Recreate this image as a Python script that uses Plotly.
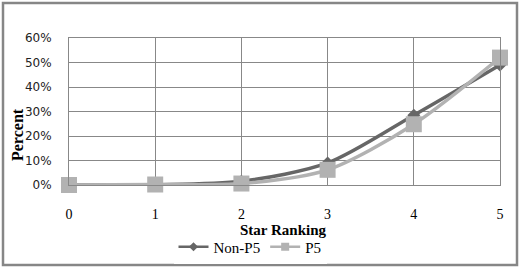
import plotly.graph_objects as go

stars = [0, 1, 2, 3, 4, 5]
non_p5 = [0.0, 0.1, 1.5, 9.0, 28.5, 49.0]
p5 = [0.0, 0.2, 0.6, 6.2, 24.8, 52.0]
y_ticks = [0, 10, 20, 30, 40, 50, 60]
y_tick_labels = ["0%", "10%", "20%", "30%", "40%", "50%", "60%"]

W, H = 521, 273
L, R, T, B = 69, 21, 38, 88
pw, ph = W - L - R, H - T - B

def px(x):
    return (x - L) / pw

def py(y):
    return (H - B - y) / ph

DARK, LIGHT = "#666666", "#b2b2b2"

fig = go.Figure()
fig.add_trace(go.Scatter(
    x=stars, y=non_p5, name="Non-P5", mode="lines+markers", cliponaxis=False, showlegend=False,
    line=dict(color=DARK, width=3.5, shape="spline", smoothing=0.8),
    marker=dict(symbol="diamond", size=10, color=DARK),
))
fig.add_trace(go.Scatter(
    x=stars, y=p5, name="P5", mode="lines+markers", cliponaxis=False, showlegend=False,
    line=dict(color=LIGHT, width=3.5, shape="spline", smoothing=0.8),
    marker=dict(symbol="square", size=16, color=LIGHT),
))
# legend-only entries with small symbols
fig.add_trace(go.Scatter(
    x=[None], y=[None], name="Non-P5", mode="lines+markers",
    line=dict(color=DARK, width=2.5), marker=dict(symbol="diamond", size=7, color=DARK),
))
fig.add_trace(go.Scatter(
    x=[None], y=[None], name="P5", mode="lines+markers",
    line=dict(color=LIGHT, width=2.5), marker=dict(symbol="square", size=8, color=LIGHT),
))

fig.update_layout(
    width=W, height=H,
    margin=dict(l=L, r=R, t=T, b=B, autoexpand=False),
    paper_bgcolor="white", plot_bgcolor="white",
    showlegend=True,
    legend=dict(orientation="h", x=px(250), y=py(247), xanchor="center", yanchor="middle",
                font=dict(family="Liberation Serif", size=15, color="#000000"),
                itemwidth=30, tracegroupgap=0),
    xaxis=dict(range=[0, 5], tickvals=stars, ticktext=[str(s) for s in stars],
               showgrid=True, gridcolor="#888888", gridwidth=1,
               showline=True, linecolor="#888888", mirror=True, zeroline=False,
               ticks="", ticklabelstandoff=16,
               tickfont=dict(family="Liberation Serif", size=14, color="#000000")),
    yaxis=dict(range=[0, 60], tickvals=y_ticks, ticktext=y_tick_labels,
               showgrid=True, gridcolor="#888888", gridwidth=1,
               showline=True, linecolor="#888888", mirror=True, zeroline=False,
               ticks="", ticklabelstandoff=14,
               tickfont=dict(family="DejaVu Sans", size=12, color="#222222")),
    annotations=[
        dict(text="<b>Star Ranking</b>", xref="paper", yref="paper", x=px(283), y=py(230),
             showarrow=False, xanchor="center", yanchor="middle",
             font=dict(family="Liberation Serif", size=15, color="#000000")),
        dict(text="<b>Percent</b>", xref="paper", yref="paper", x=px(17), y=py(135),
             showarrow=False, xanchor="center", yanchor="middle", textangle=-90,
             font=dict(family="Liberation Serif", size=16, color="#000000")),
    ],
    shapes=[
        dict(type="rect", xref="paper", yref="paper", x0=px(3), x1=px(517), y0=py(265), y1=py(3),
             line=dict(color="#868686", width=2.5), layer="below"),
    ],
)

fig.write_html("out.html", config={"displayModeBar": False},
               post_script="document.body.style.margin='0';document.body.style.overflow='hidden';")
